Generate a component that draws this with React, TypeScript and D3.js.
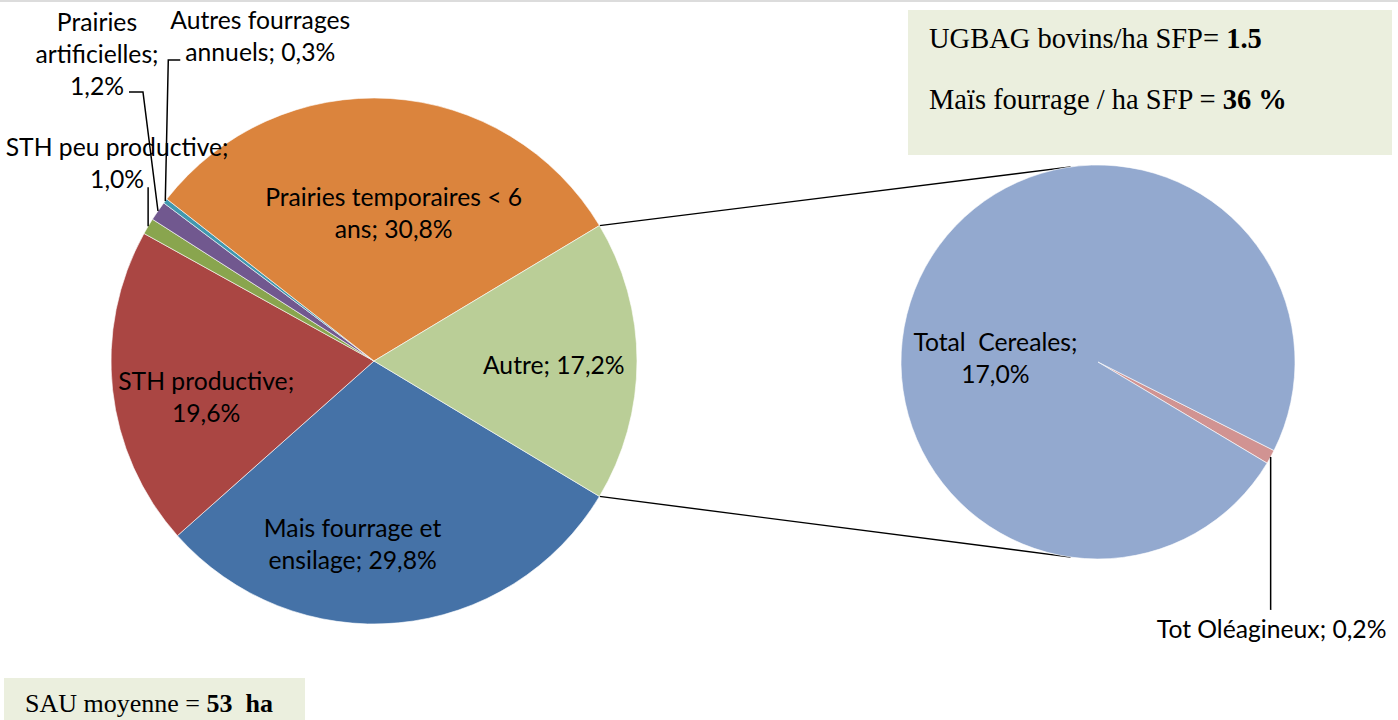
import React from "react";
import * as d3 from "d3";

// ---- data ----
const categories = [
  "Mais fourrage et ensilage",
  "STH productive",
  "STH peu productive",
  "Prairies artificielles",
  "Autres fourrages annuels",
  "Prairies temporaires < 6 ans",
  "Autre",
];
const values = [29.8, 19.6, 1.0, 1.2, 0.3, 30.8, 17.2];
const labelLines = [
  ["Mais fourrage et", "ensilage; 29,8%"],
  ["STH productive;", "19,6%"],
  ["STH peu productive;", "1,0%"],
  ["Prairies", "artificielles;", "1,2%"],
  ["Autres fourrages", "annuels; 0,3%"],
  ["Prairies temporaires < 6", "ans; 30,8%"],
  ["Autre; 17,2%"],
];
const subCategories = ["Tot Oléagineux", "Total Cereales"];
const subValues = [0.2, 17.0];
const subLabelLines = [["Tot Oléagineux; 0,2%"], ["Total  Cereales;", "17,0%"]];

const infoLines = [
  { text: "UGBAG bovins/ha SFP= ", bold: "1.5" },
  { text: "Maïs fourrage / ha SFP = ", bold: "36 %" },
];
const sauLine = { text: "SAU moyenne = ", bold: "53  ha" };

// ---- style ----
const colors = ["#4572A7", "#AA4643", "#89A54E", "#71588F", "#4198AF", "#DB843D", "#BACE97"];
const subColors = ["#D19392", "#93A9CF"];
const labelFont = "Lato, 'Noto Sans', sans-serif";
const serifFont = "'Liberation Serif', 'DejaVu Serif', serif";
const labelSize = 24.7;
const lineH = 32;

const labelLayout: any[] = [
  { mode: "in", dx: -36, dy: 25 },
  { mode: "in", dx: -11, dy: 18 },
  { mode: "out", dx: -31, dy: -64, leader: [[0, 0], [0, -39]] },
  { mode: "out", dx: -61, dy: -157, leader: [[0, 0], [-15, -119], [-29, -119]] },
  { mode: "out", dx: 95, dy: -165, leader: [[0, 0], [3, -141], [15, -141]] },
  { mode: "in", dx: 10, dy: 9 },
  { mode: "in", dx: 22, dy: 3 },
];
const subLayout: any[] = [
  { mode: "out", dx: 1, dy: 172, leader: [[0, 0], [0, 153]] },
  { mode: "in", dx: 1, dy: 52 },
];

const W = 1398;
const H = 720;
const c1 = { x: 374, y: 361, r: 263 };
const c2 = { x: 1098, y: 362, r: 197 };

function Label({ x, y, lines }: { x: number; y: number; lines: string[] }) {
  const n = lines.length;
  return (
    <text
      x={x}
      y={y}
      textAnchor="middle"
      fontFamily={labelFont}
      fontSize={labelSize}
      fill="#000"
      style={{ whiteSpace: "pre" }}
    >
      {lines.map((l, i) => (
        <tspan key={i} x={x} y={y + (i - (n - 1) / 2) * lineH} dominantBaseline="central">
          {l}
        </tspan>
      ))}
    </text>
  );
}

export default function App() {
  const total = d3.sum(values);
  const autreIdx = values.length - 1;
  const start = Math.PI / 2 + (Math.PI * values[autreIdx]) / total;
  const pie = d3
    .pie<number>()
    .sort(null)
    .value((d) => d)
    .startAngle(start)
    .endAngle(start + 2 * Math.PI);
  const arcs = pie(values);
  const arc = d3.arc<any>().innerRadius(0).outerRadius(c1.r);
  const labelArc = d3.arc<any>().innerRadius(c1.r * 0.6).outerRadius(c1.r * 0.6);

  const subStart = (116.7 * Math.PI) / 180;
  const subPie = d3
    .pie<number>()
    .sort(null)
    .value((d) => d)
    .startAngle(subStart)
    .endAngle(subStart + 2 * Math.PI);
  const subArcs = subPie(subValues);
  const subArc = d3.arc<any>().innerRadius(0).outerRadius(c2.r);
  const subLabelArc = d3.arc<any>().innerRadius(c2.r * 0.6).outerRadius(c2.r * 0.6);

  const polar = (cx: number, cy: number, r: number, a: number) => [
    cx + r * Math.sin(a),
    cy - r * Math.cos(a),
  ];

  const autre = arcs[autreIdx];
  const pTop = polar(c1.x, c1.y, c1.r, autre.startAngle);
  const pBot = polar(c1.x, c1.y, c1.r, autre.endAngle);
  const qTop = polar(c2.x, c2.y, c2.r, (-8 * Math.PI) / 180);
  const qBot = polar(c2.x, c2.y, c2.r, (188 * Math.PI) / 180);

  const renderLabels = (
    as: any[],
    layouts: any[],
    lines: string[][],
    cx: number,
    cy: number,
    r: number,
    lArc: any
  ) =>
    as.map((a, i) => {
      const lay = layouts[i];
      if (lay.mode === "in") {
        const [x, y] = lArc.centroid(a);
        return <Label key={i} x={cx + x + lay.dx} y={cy + y + lay.dy} lines={lines[i]} />;
      }
      const mid = (a.startAngle + a.endAngle) / 2;
      const [px, py] = polar(cx, cy, r, mid);
      const pts = lay.leader.map((p: number[]) => [px + p[0], py + p[1]]);
      return (
        <g key={i}>
          <path
            d={d3.line()(pts as any) || ""}
            fill="none"
            stroke="#000"
            strokeWidth={1.5}
          />
          <Label x={px + lay.dx} y={py + lay.dy} lines={lines[i]} />
        </g>
      );
    });

  return (
    <svg
      width={W}
      height={H}
      style={{ position: "absolute", left: 0, top: 0, display: "block", background: "#fff" }}
    >
      <line x1={0} x2={W} y1={1} y2={1} stroke="#dcdcdc" strokeWidth={2} />

      {/* connector lines */}
      <line x1={pTop[0]} y1={pTop[1]} x2={qTop[0]} y2={qTop[1]} stroke="#000" strokeWidth={1.4} />
      <line x1={pBot[0]} y1={pBot[1]} x2={qBot[0]} y2={qBot[1]} stroke="#000" strokeWidth={1.4} />

      <g transform={`translate(${c1.x},${c1.y})`}>
        {arcs.map((a, i) => (
          <path key={categories[i]} d={arc(a) || ""} fill={colors[i]} stroke="#fff" strokeWidth={0.6} />
        ))}
      </g>
      <g transform={`translate(${c2.x},${c2.y})`}>
        {subArcs.map((a, i) => (
          <path key={subCategories[i]} d={subArc(a) || ""} fill={subColors[i]} stroke="#fff" strokeWidth={0.6} />
        ))}
      </g>

      {renderLabels(arcs, labelLayout, labelLines, c1.x, c1.y, c1.r, labelArc)}
      {renderLabels(subArcs, subLayout, subLabelLines, c2.x, c2.y, c2.r, subLabelArc)}

      {/* info box */}
      <rect x={908} y={10} width={484} height={145} fill="#EBEFDE" />
      {infoLines.map((l, i) => (
        <text key={i} x={929} y={48 + i * 61} fontFamily={serifFont} fontSize={28.5} fill="#000" style={{ whiteSpace: "pre" }}>
          {l.text}
          <tspan fontWeight="bold">{l.bold}</tspan>
        </text>
      ))}

      <rect x={4} y={678} width={301} height={50} fill="#EBEFDE" />
      <text x={25} y={712} fontFamily={serifFont} fontSize={26} fill="#000" style={{ whiteSpace: "pre" }}>
        {sauLine.text}
        <tspan fontWeight="bold">{sauLine.bold}</tspan>
      </text>
    </svg>
  );
}
